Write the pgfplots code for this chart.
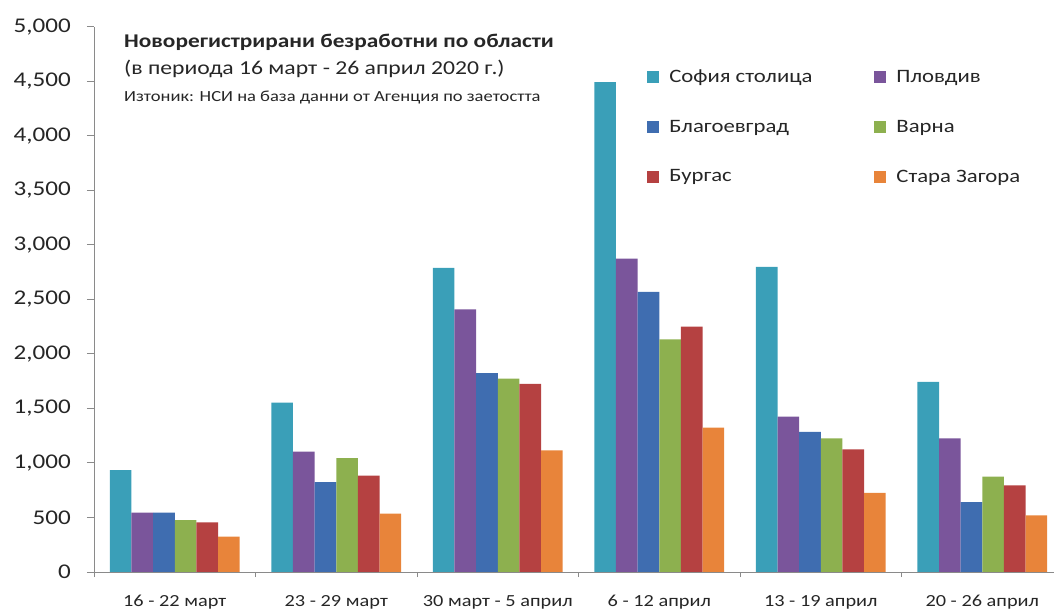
\documentclass[border=0pt]{standalone}
\usepackage{pgfplots}
\pgfplotsset{compat=1.18}
\usepackage{pgfplotstable}
\usepackage{fontspec}
\setmainfont[FakeStretch=1.2]{Carlito}
\definecolor{cSof}{HTML}{3A9FB8}
\definecolor{cPlo}{HTML}{7A559B}
\definecolor{cBla}{HTML}{3F6DB0}
\definecolor{cVar}{HTML}{8DB04F}
\definecolor{cBur}{HTML}{B54141}
\definecolor{cSz}{HTML}{E8843A}
\definecolor{axgray}{HTML}{8A8A8A}
\definecolor{txt}{HTML}{262626}
\pgfplotstableread{
x sof plo bla var bur sz
0 935 545 545 475 455 325
1 1555 1105 825 1045 885 535
2 2790 2410 1825 1775 1725 1115
3 4495 2875 2570 2135 2250 1325
4 2800 1425 1285 1225 1125 725
5 1745 1225 640 875 795 520
}\data
\begin{document}
\begin{tikzpicture}
\begin{axis}[
  at={(94bp,37bp)}, anchor=south west,
  scale only axis, width=960bp, height=545bp,
  xmin=-0.5, xmax=5.444, ymin=0, ymax=5000,
  ybar=0pt, bar width=0.134,
  axis lines=left, axis line style={-, draw=axgray, line width=1bp},
  clip=true,
  ytick={0,500,...,5000},
  xtick={0,...,5},
  xticklabels={16 - 22 март, 23 - 29 март, 30 март - 5 април, 6 - 12 април, 13 - 19 април, 20 - 26 април},
  xtick style={draw=none},
  ytick style={draw=axgray, line width=1bp},
  tick align=outside, major tick length=7bp,
  extra x ticks={-0.5,0.5,1.5,2.5,3.5,4.5},
  extra x tick labels={},
  extra x tick style={xtick style={draw=axgray, line width=1bp}, major tick length=5bp},
  /pgf/number format/assume math mode=true,
  /pgf/number format/1000 sep={,},
  scaled y ticks=false,
  yticklabel style={font=\fontsize{21}{21}\selectfont, text=txt, anchor=east, inner sep=0pt, xshift=-16bp},
  xticklabel style={font=\fontsize{17}{17}\selectfont, text=txt, anchor=north, inner sep=0pt, yshift=-16bp},
  legend columns=2,
  legend cell align=left,
  legend style={at={(rel axis cs:0.573,0.929)}, anchor=north west, draw=none, fill=none,
    font=\fontsize{19}{19}\selectfont, text=txt, row sep=32bp,
    /tikz/every odd column/.append style={column sep=8bp},
    /tikz/every even column/.append style={column sep=60bp}},
  legend image code/.code={\fill[#1] (0bp,-6bp) rectangle (12bp,6bp);},
]
\addplot[fill=cSof, draw=none] table[x=x, y=sof] {\data};
\addplot[fill=cPlo, draw=none] table[x=x, y=plo] {\data};
\addplot[fill=cBla, draw=none] table[x=x, y=bla] {\data};
\addplot[fill=cVar, draw=none] table[x=x, y=var] {\data};
\addplot[fill=cBur, draw=none] table[x=x, y=bur] {\data};
\addplot[fill=cSz, draw=none] table[x=x, y=sz] {\data};
\legend{София столица, Пловдив, Благоевград, Варна, Бургас, Стара Загора}
\end{axis}
\node[anchor=base west, inner sep=0pt, text=txt, font=\bfseries\fontsize{19.5}{19.5}\selectfont] at (124bp,561bp) {Новорегистрирани безработни по области};
\node[anchor=base west, inner sep=0pt, text=txt, font=\fontsize{19.8}{19.8}\selectfont] at (124bp,534bp) {(в периода 16 март - 26 април 2020 г.)};
\node[anchor=base west, inner sep=0pt, text=txt, font=\fontsize{15.5}{15.5}\selectfont] at (124bp,507bp) {Изтоник: НСИ на база данни от Агенция по заетостта};
\pgfresetboundingbox
\path[use as bounding box] (0,0) rectangle (1054bp,609bp);
\end{tikzpicture}
\end{document}
